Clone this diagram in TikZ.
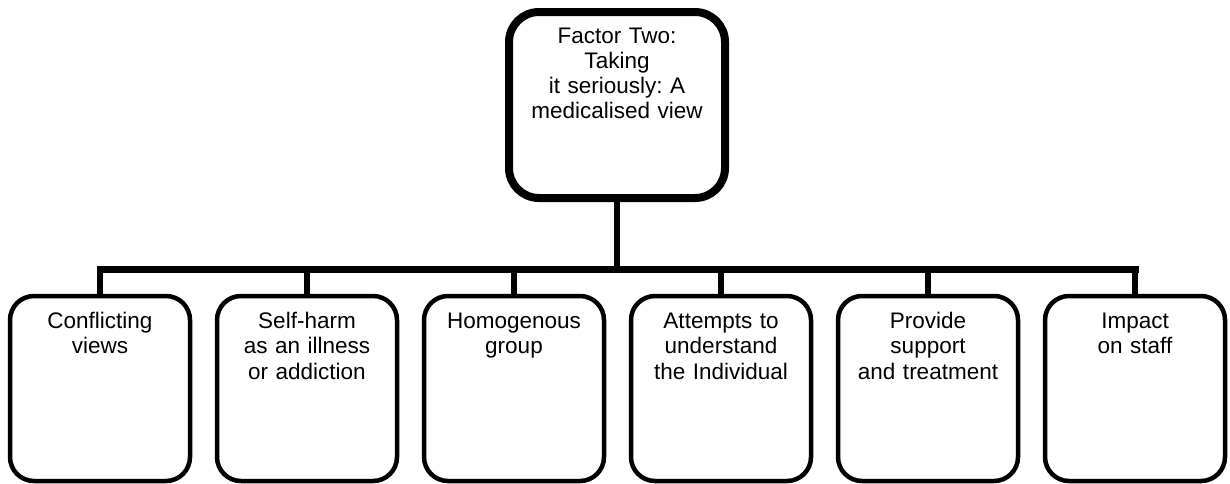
\documentclass[tikz,border=0pt]{standalone}
\usepackage{fontspec}
\setmainfont{Liberation Sans}
\usetikzlibrary{positioning,
	calc}
\tikzstyle{factor}=[draw, line width=4pt, rounded corners=15pt, inner sep=0, outer sep=0,
		minimum width=108pt, minimum height=93pt, text width=104pt, align=center,
		text height=15.5pt, text depth=77.5pt, font=\fontsize{11.25pt}{12.5pt}\selectfont\frenchspacing]
\tikzstyle{theme}=[draw, line width=2.25pt, rounded corners=12pt, inner sep=0, outer sep=0,
		minimum width=90pt, minimum height=92.5pt, text width=88pt, align=center,
		text height=16pt, text depth=76.5pt, font=\fontsize{11.25pt}{12.75pt}\selectfont]
\tikzstyle{link}=[line width=2.8pt]
\tikzstyle{bar}=[line width=3.5pt, line cap=rect]

\begin{document}
\begin{tikzpicture}
	\useasboundingbox (0,0) rectangle (615pt,-241.5pt);
	\node[factor, anchor=north] (f2) at (308.5pt,-6pt) {Factor Two:\\ Taking\\ it seriously: A\\ medicalised view};

	\node[theme, anchor=north] (t1) at (50pt,-148pt) {Conflicting\\ views};
	\node[theme, right=13.5pt of t1] (t2) {Self-harm\\ as an illness\\ or addiction};
	\node[theme, right=13.5pt of t2] (t3) {Homogenous\\ group};
	\node[theme, right=13.5pt of t3] (t4) {Attempts to\\ understand\\ the Individual};
	\node[theme, right=13.5pt of t4] (t5) {Provide\\ support\\ and treatment};
	\node[theme, right=13.5pt of t5] (t6) {Impact\\ on staff};

	\coordinate (bus) at ($(f2.south)+(0,-35.5pt)$);
	\draw[link, line width=3.2pt] (f2.south) -- (bus);
	\draw[bar] (t1.north |- bus) -- (t6.north |- bus);
	\foreach \i in {1,...,6}
		\draw[link] (t\i.north) -- (t\i.north |- bus);
\end{tikzpicture}
\end{document}
